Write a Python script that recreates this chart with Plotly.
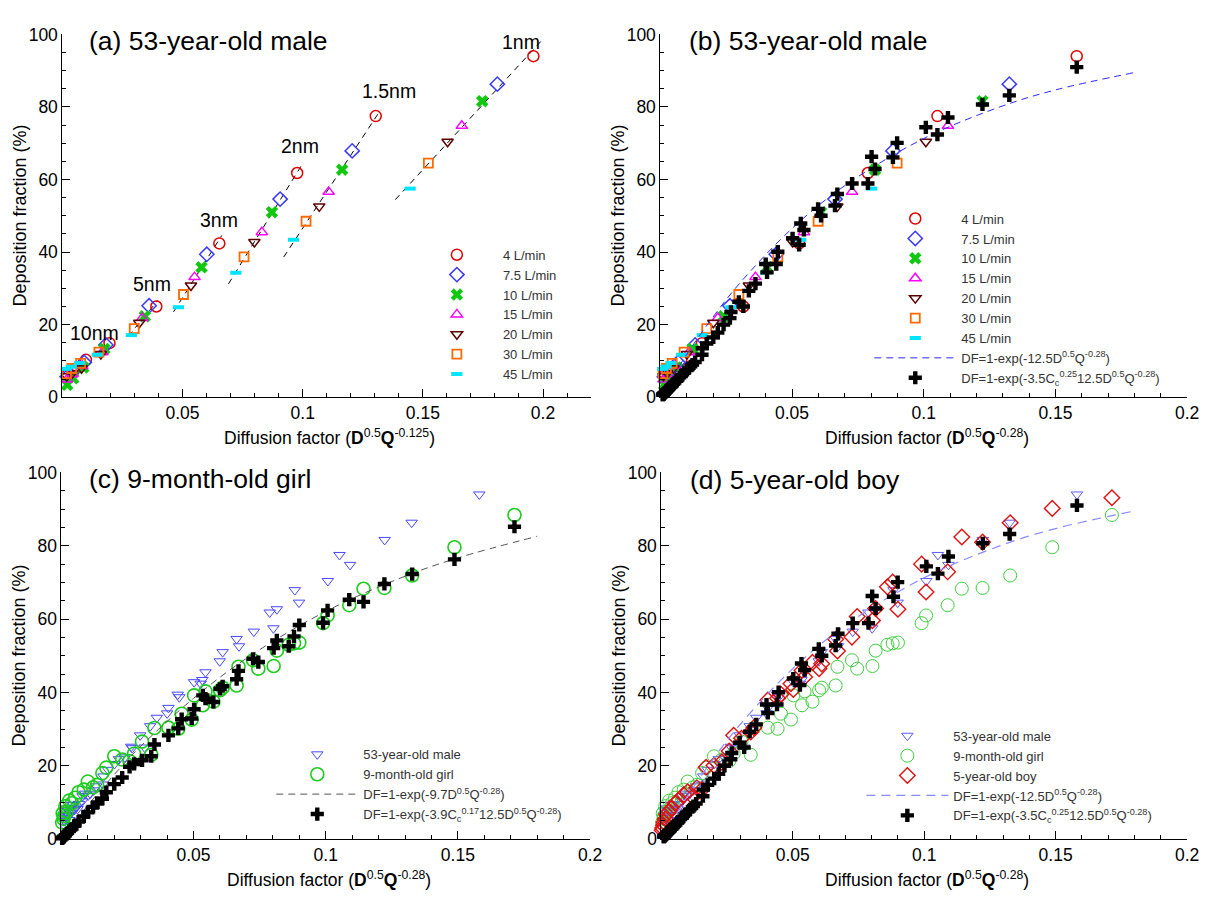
import numpy as np
import plotly.graph_objects as go

W, H = 1208, 898
FONT = "Arial, 'Liberation Sans', sans-serif"

# ---------------------------------------------------------------------------
# 53-year-old male, one list per inhalation flow rate.
# Columns follow particle diameter: 1, 1.5, 2, 3, 5, 10, 20, 40, 100 nm
# xa : D^0.5 Q^-0.125     xb : D^0.5 Q^-0.28
# df : measured deposition fraction (%)
# fit: correlation DF=1-exp(-3.5Cc^0.25 12.5 D^0.5 Q^-0.28) (%)
# ---------------------------------------------------------------------------
FLOW_LABELS = ["4 L/min", "7.5 L/min", "10 L/min", "15 L/min", "20 L/min", "30 L/min", "45 L/min"]

q4_xa = [0.196, 0.1304, 0.0977, 0.0653, 0.0391, 0.0196, 0.0098, 0.0050, 0.0022]
q4_xb = [0.1581, 0.1052, 0.0788, 0.0527, 0.0315, 0.0158, 0.0079, 0.0040, 0.0018]
q4_df = [94.0, 77.5, 61.8, 42.4, 25.0, 14.9, 10.3, 7.6, 6.2]
q4_fit = [91.0, 72.4, 58.9, 42.0, 25.0, 11.7, 5.8, 2.9, 1.3]

q7p5_xa = [0.181, 0.1206, 0.0906, 0.0601, 0.0361, 0.0181, 0.0091, 0.0046, 0.0020]
q7p5_xb = [0.1325, 0.0883, 0.0663, 0.0440, 0.0264, 0.0132, 0.0067, 0.0034, 0.0015]
q7p5_df = [86.3, 67.9, 54.6, 39.4, 25.2, 14.4, 9.6, 7.2, 5.6]
q7p5_fit = [83.2, 66.1, 52.8, 36.7, 21.8, 9.7, 4.9, 2.5, 1.1]

q10_xa = [0.1747, 0.1164, 0.0872, 0.0579, 0.0343, 0.0175, 0.0087, 0.0045, 0.0020]
q10_xb = [0.1223, 0.0815, 0.0610, 0.0405, 0.0240, 0.0122, 0.0061, 0.0031, 0.0014]
q10_df = [81.6, 62.7, 51.0, 35.8, 22.3, 13.3, 8.2, 5.2, 3.4]
q10_fit = [80.7, 62.9, 50.0, 34.4, 20.0, 9.0, 4.5, 2.3, 1.0]

q15_xa = [0.1662, 0.1108, 0.0830, 0.0550, 0.0332, 0.0166, 0.0083, 0.0042, 0.0019]
q15_xb = [0.1092, 0.0728, 0.0545, 0.0361, 0.0218, 0.0109, 0.0055, 0.0028, 0.0012]
q15_df = [74.8, 56.6, 45.5, 33.1, 21.8, 12.4, 8.6, 6.3, 4.9]
q15_fit = [77.1, 58.9, 46.1, 31.3, 17.8, 8.1, 4.0, 2.0, 0.9]

q20_xa = [0.1603, 0.1069, 0.0799, 0.0535, 0.0320, 0.0160, 0.0080, 0.0041, 0.0018]
q20_xb = [0.1008, 0.0672, 0.0502, 0.0336, 0.0201, 0.0101, 0.0050, 0.0026, 0.0011]
q20_df = [70.4, 52.6, 42.8, 30.8, 20.5, 11.9, 8.0, 6.6, 5.8]
q20_fit = [74.4, 56.0, 43.8, 29.3, 16.5, 7.5, 3.7, 1.9, 0.8]

q30_xa = [0.1523, 0.1014, 0.0756, 0.0504, 0.0299, 0.0152, 0.0076, 0.0039, 0.0017]
q30_xb = [0.0899, 0.0599, 0.0446, 0.0298, 0.0176, 0.0090, 0.0045, 0.0023, 0.0010]
q30_df = [64.5, 48.5, 38.7, 28.3, 18.9, 12.4, 9.3, 7.9, 6.5]
q30_fit = [70.1, 51.9, 40.1, 26.3, 14.8, 6.7, 3.3, 1.7, 0.7]

q45_xa = [0.1447, 0.0962, 0.0722, 0.0483, 0.0287, 0.0145, 0.0072, 0.0037, 0.0016]
q45_xb = [0.0802, 0.0533, 0.0400, 0.0268, 0.0159, 0.0080, 0.0040, 0.0021, 0.0009]
q45_df = [57.5, 43.4, 34.3, 24.8, 17.1, 11.7, 9.4, 8.4, 7.8]
q45_fit = [66.3, 47.9, 36.7, 23.5, 13.5, 6.0, 3.0, 1.5, 0.7]

# particle sizes that carry an iso-size dashed line in panel (a)
SIZE_LABELS = ["1nm", "1.5nm", "2nm", "3nm", "5nm", "10nm"]
SIZE_LABEL_X = [0.191, 0.136, 0.0987, 0.0653, 0.0373, 0.0133]
SIZE_LABEL_Y = [98.0, 84.5, 69.2, 48.8, 31.3, 17.8]

# ---------------------------------------------------------------------------
# Children (9-month-old girl and 5-year-old boy), diffusion factor D^0.5 Q^-0.28
# ---------------------------------------------------------------------------
child_x = [0.1714, 0.1487, 0.1327, 0.1222, 0.1143, 0.1089, 0.1007, 0.0990, 0.0900, 0.0880,
           0.0860, 0.0815, 0.0803, 0.0745, 0.0725, 0.0670, 0.0663, 0.0610, 0.0600, 0.0575,
           0.0545, 0.0535, 0.0502, 0.0493, 0.0455, 0.0442, 0.0405, 0.0352, 0.0340, 0.0305,
           0.0275, 0.0258, 0.0230, 0.0200, 0.0170, 0.0155, 0.0135, 0.0120, 0.0100, 0.0085,
           0.0065, 0.0052, 0.0040, 0.0030, 0.0020, 0.0015, 0.0010, 0.0008, 0.0005, 0.0003]
girl_df = [88.4, 79.6, 71.9, 68.5, 68.3, 63.8, 61.0, 58.9, 53.6, 53.4,
           53.0, 51.4, 47.2, 46.5, 48.8, 47.0, 41.9, 41.3, 40.6, 37.5,
           40.3, 36.5, 39.2, 32.6, 34.2, 30.1, 30.4, 30.3, 23.0, 26.6,
           23.3, 21.3, 21.7, 22.6, 19.5, 18.0, 14.8, 14.1, 15.7, 13.5,
           12.8, 11.3, 9.8, 10.5, 7.5, 9.0, 6.3, 5.5, 7.0, 4.5]
girl_fit = [85.2, 76.3, 72.3, 69.6, 64.7, 65.3, 62.4, 59.0, 58.4, 55.3,
            52.6, 54.2, 52.1, 48.3, 49.2, 45.9, 43.6, 41.7, 41.0, 37.4,
            38.3, 39.2, 35.4, 32.9, 32.7, 30.2, 28.3, 25.8, 22.6, 21.5,
            20.5, 19.7, 16.8, 15.0, 12.8, 11.0, 9.8, 8.8, 7.3, 6.2,
            4.8, 3.8, 2.9, 2.2, 1.5, 1.1, 0.7, 0.6, 0.4, 0.2]
boy_df = [93.1, 90.2, 86.3, 81.0, 82.4, 72.9, 67.4, 75.0, 62.7, 70.1,
          68.8, 62.9, 59.6, 60.7, 55.1, 51.3, 54.5, 47.8, 46.5, 48.2,
          44.2, 46.0, 40.8, 42.4, 39.5, 38.4, 37.9, 30.4, 29.2, 27.5,
          28.3, 24.0, 21.0, 20.1, 19.6, 13.5, 14.0, 11.5, 12.9, 12.1,
          10.5, 9.8, 8.5, 7.6, 6.8, 5.5, 4.6, 3.8, 3.0, 2.4]

# Correlation curves DF=1-exp(-k D^0.5 Q^-0.28), sampled along the diffusion factor
curve_x = [0.0, 0.01, 0.02, 0.03, 0.05, 0.07, 0.10, 0.13, 0.15, 0.18]
curve_male_k125 = [0.0, 11.8, 22.1, 31.3, 46.5, 58.3, 71.3, 80.3, 84.7, 89.5]
curve_girl_k97 = [0.0, 9.2, 17.6, 25.3, 38.4, 49.3, 62.1, 71.7, 76.7, 82.6]

XTICKS = [0.05, 0.1, 0.15, 0.2]
XTICKTEXT = ["0.05", "0.1", "0.15", "0.2"]

# ---------------------------------------------------------------------------
flows = [
    (FLOW_LABELS[0], q4_xa, q4_xb, q4_df, q4_fit,
     dict(symbol="circle-open", size=11, color="#e00000", line=dict(width=1.5, color="#e00000"))),
    (FLOW_LABELS[1], q7p5_xa, q7p5_xb, q7p5_df, q7p5_fit,
     dict(symbol="diamond-open", size=11, color="#3a3aff", line=dict(width=1.5, color="#3a3aff"))),
    (FLOW_LABELS[2], q10_xa, q10_xb, q10_df, q10_fit,
     dict(symbol="x", size=11, color="#10c810", line=dict(width=0))),
    (FLOW_LABELS[3], q15_xa, q15_xb, q15_df, q15_fit,
     dict(symbol="triangle-up-open", size=10, color="#ff00ff", line=dict(width=1.5, color="#ff00ff"))),
    (FLOW_LABELS[4], q20_xa, q20_xb, q20_df, q20_fit,
     dict(symbol="triangle-down-open", size=10, color="#5a0000", line=dict(width=1.5, color="#5a0000"))),
    (FLOW_LABELS[5], q30_xa, q30_xb, q30_df, q30_fit,
     dict(symbol="square-open", size=9, color="#ff6a00", line=dict(width=1.8, color="#ff6a00"))),
    (FLOW_LABELS[6], q45_xa, q45_xb, q45_df, q45_fit,
     dict(symbol="line-ew", size=8, color="#00e5ff", line=dict(width=4, color="#00e5ff"))),
]

fig = go.Figure()

# panel (a): iso-size trend lines underneath the markers
for k, lab in enumerate(SIZE_LABELS):
    xs = np.array([f[1][k] for f in flows])
    ys = np.array([f[3][k] for f in flows])
    slope, icpt = np.polyfit(xs, ys, 1)
    span = xs.max() - xs.min()
    xl = np.array([xs.min() - 0.12 * span, xs.max() + 0.06 * span])
    fig.add_trace(go.Scatter(x=xl, y=slope * xl + icpt, mode="lines", xaxis="x", yaxis="y",
                             line=dict(color="black", width=1, dash="6px,5px"),
                             showlegend=False, hoverinfo="skip"))

# panel (a) and (b): measured data per flow rate
for name, xa, xb, df, fit, mk in flows:
    fig.add_trace(go.Scatter(x=xa, y=df, mode="markers", name=name, marker=mk,
                             xaxis="x", yaxis="y", legend="legend", cliponaxis=False))
for name, xa, xb, df, fit, mk in flows:
    fig.add_trace(go.Scatter(x=xb, y=df, mode="markers", name=name, marker=mk,
                             xaxis="x2", yaxis="y2", legend="legend2", cliponaxis=False))

male_xb = [v for f in flows for v in f[2]]
male_df = [v for f in flows for v in f[3]]
male_fit = [v for f in flows for v in f[4]]

LBL_K125 = "DF=1-exp(-12.5D<sup>0.5</sup>Q<sup>-0.28</sup>)"
LBL_MALE_CC = "DF=1-exp(-3.5C<sub>c</sub><sup>0.25</sup>12.5D<sup>0.5</sup>Q<sup>-0.28</sup>)"
LBL_K97 = "DF=1-exp(-9.7D<sup>0.5</sup>Q<sup>-0.28</sup>)"
LBL_GIRL_CC = "DF=1-exp(-3.9C<sub>c</sub><sup>0.17</sup>12.5D<sup>0.5</sup>Q<sup>-0.28</sup>)"

CROSS = dict(symbol="cross", size=11, color="black", line=dict(width=0))

fig.add_trace(go.Scatter(x=curve_x, y=curve_male_k125, mode="lines", name=LBL_K125,
                         line=dict(color="#2a2aff", width=1, dash="7px,5px", shape="spline"),
                         xaxis="x2", yaxis="y2", legend="legend2"))
fig.add_trace(go.Scatter(x=male_xb, y=male_fit, mode="markers", name=LBL_MALE_CC, marker=CROSS,
                         xaxis="x2", yaxis="y2", legend="legend2", cliponaxis=False))

# panel (c): 9-month-old girl
fig.add_trace(go.Scatter(x=male_xb, y=male_df, mode="markers", name="53-year-old male",
                         marker=dict(symbol="triangle-down-open", size=10, color="#4848ff",
                                     line=dict(width=1, color="#4848ff")),
                         xaxis="x3", yaxis="y3", legend="legend3", cliponaxis=False))
fig.add_trace(go.Scatter(x=child_x, y=girl_df, mode="markers", name="9-month-old girl",
                         marker=dict(symbol="circle-open", size=13, color="#1ccc1c",
                                     line=dict(width=1.6, color="#1ccc1c")),
                         xaxis="x3", yaxis="y3", legend="legend3", cliponaxis=False))
fig.add_trace(go.Scatter(x=curve_x, y=curve_girl_k97, mode="lines", name=LBL_K97,
                         line=dict(color="#555555", width=1, dash="7px,5px", shape="spline"),
                         xaxis="x3", yaxis="y3", legend="legend3"))
fig.add_trace(go.Scatter(x=child_x, y=girl_fit, mode="markers", name=LBL_GIRL_CC, marker=CROSS,
                         xaxis="x3", yaxis="y3", legend="legend3", cliponaxis=False))

# panel (d): 5-year-old boy
fig.add_trace(go.Scatter(x=male_xb, y=male_df, mode="markers", name="53-year-old male",
                         marker=dict(symbol="triangle-down-open", size=10, color="#5c5cff",
                                     line=dict(width=1, color="#5c5cff")),
                         xaxis="x4", yaxis="y4", legend="legend4", cliponaxis=False))
fig.add_trace(go.Scatter(x=child_x, y=girl_df, mode="markers", name="9-month-old girl",
                         marker=dict(symbol="circle-open", size=13, color="#3fcf3f",
                                     line=dict(width=1, color="#3fcf3f")),
                         xaxis="x4", yaxis="y4", legend="legend4", cliponaxis=False))
fig.add_trace(go.Scatter(x=child_x, y=boy_df, mode="markers", name="5-year-old boy",
                         marker=dict(symbol="diamond-open", size=12, color="#e01010",
                                     line=dict(width=1.4, color="#e01010")),
                         xaxis="x4", yaxis="y4", legend="legend4", cliponaxis=False))
fig.add_trace(go.Scatter(x=curve_x, y=curve_male_k125, mode="lines", name=LBL_K125,
                         line=dict(color="#8a8aff", width=1.2, dash="9px,6px", shape="spline"),
                         xaxis="x4", yaxis="y4", legend="legend4"))
fig.add_trace(go.Scatter(x=male_xb, y=male_fit, mode="markers", name=LBL_MALE_CC, marker=CROSS,
                         xaxis="x4", yaxis="y4", legend="legend4", cliponaxis=False))

# ---------------------------------------------------------------------------
# layout: panel boxes in pixels
PANELS = {
    "a": (63, 597, 25, 396, 0.22),
    "b": (667, 1199, 25, 396, 0.20),
    "c": (62, 596, 473, 848, 0.20),
    "d": (668, 1199, 473, 848, 0.20),
}

tickfont = dict(size=17.5, color="black", family=FONT)


def x_axis(x0, x1, xmax, anchor):
    return dict(domain=[x0 / W, x1 / W], range=[0, xmax], anchor=anchor,
                showline=True, linecolor="black", linewidth=1, mirror=False,
                showgrid=False, zeroline=False,
                ticks="inside", ticklen=8, tickwidth=1, tickcolor="black",
                tickmode="array", tickvals=XTICKS, ticktext=XTICKTEXT, tickfont=tickfont,
                minor=dict(ticks="inside", ticklen=4, tickwidth=1, tickcolor="black",
                           tickmode="linear", tick0=0, dtick=0.01, showgrid=False),
                fixedrange=True)


def y_axis(y0, y1, anchor):
    return dict(domain=[1 - y1 / H, 1 - y0 / H], range=[0, 100], anchor=anchor,
                showline=True, linecolor="black", linewidth=1, mirror=False,
                showgrid=False, zeroline=False,
                ticks="inside", ticklen=8, tickwidth=1, tickcolor="black",
                tickmode="linear", tick0=0, dtick=20, tickfont=tickfont,
                minor=dict(ticks="inside", ticklen=4, tickwidth=1, tickcolor="black",
                           tickmode="linear", tick0=0, dtick=5, showgrid=False),
                fixedrange=True)


layout = dict(width=W, height=H, margin=dict(l=0, r=0, t=0, b=0),
              paper_bgcolor="white", plot_bgcolor="white",
              font=dict(family=FONT, color="black"), hovermode=False)

for i, key in enumerate(["a", "b", "c", "d"]):
    x0, x1, y0, y1, xmax = PANELS[key]
    sfx = "" if i == 0 else str(i + 1)
    layout["xaxis" + sfx] = x_axis(x0, x1, xmax, "y" + sfx)
    layout["yaxis" + sfx] = y_axis(y0, y1, "x" + sfx)


def legend_box(left_px, top_px):
    return dict(x=left_px / W, y=1 - top_px / H, xanchor="left", yanchor="top",
                bgcolor="rgba(0,0,0,0)", borderwidth=0, itemwidth=82, tracegroupgap=0,
                traceorder="normal", font=dict(size=13, color="#333333", family=FONT))


layout["legend"] = legend_box(415, 235)
layout["legend2"] = legend_box(878, 198)
layout["legend3"] = legend_box(274, 746)
layout["legend4"] = legend_box(870, 727)

ann = []
TITLES = [("(a) 53-year-old male", 88, 32), ("(b) 53-year-old male", 694, 32),
          ("(c) 9-month-old girl", 88, 480), ("(d) 5-year-old boy", 695, 481)]
for txt, xp, yp in TITLES:
    ann.append(dict(text=txt, x=xp / W, y=1 - yp / H, xref="paper", yref="paper",
                    xanchor="left", yanchor="middle", showarrow=False,
                    font=dict(size=26.5, color="black", family=FONT)))

XTITLE_A = "Diffusion factor (<b>D</b><sup>0.5</sup><b>Q</b><sup>-0.125</sup>)"
XTITLE_B = "Diffusion factor (<b>D</b><sup>0.5</sup><b>Q</b><sup>-0.28</sup>)"
for key, xt in [("a", XTITLE_A), ("b", XTITLE_B), ("c", XTITLE_B), ("d", XTITLE_B)]:
    x0, x1, y0, y1, _ = PANELS[key]
    ann.append(dict(text=xt, x=((x0 + x1) / 2 + 3) / W, y=1 - (y1 + 41) / H,
                    xref="paper", yref="paper", xanchor="center", yanchor="middle",
                    showarrow=False, font=dict(size=17.5, color="black", family=FONT)))
    ann.append(dict(text="Deposition fraction (%)", x=(x0 - 43) / W, y=1 - (y0 + y1) / 2 / H,
                    xref="paper", yref="paper", xanchor="center", yanchor="middle",
                    textangle=-90, showarrow=False,
                    font=dict(size=18, color="black", family=FONT)))

for lab, lx, ly in zip(SIZE_LABELS, SIZE_LABEL_X, SIZE_LABEL_Y):
    ann.append(dict(text=lab, x=lx, y=ly, xref="x", yref="y", showarrow=False,
                    xanchor="center", yanchor="middle",
                    font=dict(size=19.5, color="black", family=FONT)))

layout["annotations"] = ann
fig.update_layout(**layout)
fig.write_html("out.html")
